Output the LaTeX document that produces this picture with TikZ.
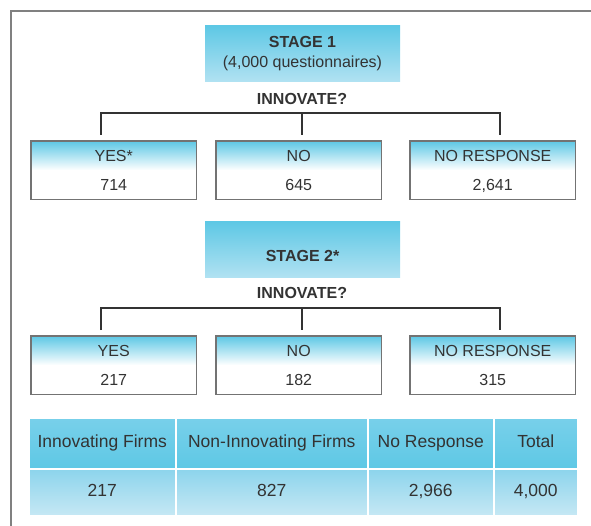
\documentclass[tikz,border=0pt]{standalone}
\usepackage{fontspec}
\setmainfont{Liberation Sans}
\begin{document}
\begin{tikzpicture}[x=1pt,y=-1pt,
  txt/.style={font=\fontsize{16}{19}\selectfont, text=black!80},
  bold/.style={txt, font=\fontsize{16}{20}\selectfont\bfseries},
  stagebox/.style={bold, inner sep=0pt, minimum width=195pt, minimum height=56pt,
    top color=cyanA, bottom color=cyanB, align=center},
  anshead/.style={txt, anchor=north west, inner sep=0pt, minimum width=165pt,
    minimum height=29pt, text height=11.5pt, text depth=0pt,
    top color=cyanA, bottom color=white},
  ansval/.style={txt, anchor=north west, inner sep=0pt, minimum width=165pt,
    minimum height=29pt, text height=11.5pt, text depth=0pt, fill=white},
  ansframe/.style={draw=black!55, line width=1.4pt},
  bracket/.style={draw=black!80, line width=1.8pt},
  tabtxt/.style={font=\fontsize{17.5}{20}\selectfont, text=black!80,
    text height=12.5pt, text depth=4pt},
  thead/.style={tabtxt, anchor=north west, inner sep=0pt, minimum height=51pt,
    top color=cyanC, bottom color=cyanA, draw=white, line width=1.5pt},
  tval/.style={tabtxt, anchor=north west, inner sep=0pt, minimum height=47pt,
    top color=cyanD, bottom color=cyanE, draw=white, line width=1.5pt}]
\definecolor{cyanA}{HTML}{5EC8E5}
\definecolor{cyanB}{HTML}{B2E2F2}
\definecolor{cyanC}{HTML}{78D0EA}
\definecolor{cyanD}{HTML}{8CD4EC}
\definecolor{cyanE}{HTML}{C6E8F4}

\useasboundingbox (0,0) rectangle (591,526);

% outer frame (left and top edges only)
\draw[draw=black!50, line width=2pt] (11,526) -- (11,11) -- (591,11);

% ---------- stage 1 ----------
\node[stagebox] (s1) at (302.5,54) {STAGE 1\\\mdseries(4,000 questionnaires)};
\node[bold] (q1) at (302,99) {INNOVATE?};

\coordinate (b1l) at (101,135);
\coordinate (b1m) at (302,135);
\coordinate (b1r) at (500,135);
\draw[bracket] (b1l) -- (101,113) -- (500,113) -- (b1r);
\draw[bracket] (302,113) -- (b1m);

\node[anshead] (y1h) at (31,141) {YES*};
\node[ansval]  (y1v) at (31,170) {714};
\node[anshead] (n1h) at (216,141) {NO};
\node[ansval]  (n1v) at (216,170) {645};
\node[anshead] (r1h) at (410,141) {NO RESPONSE};
\node[ansval]  (r1v) at (410,170) {2,641};
\foreach \h/\v in {y1h/y1v, n1h/n1v, r1h/r1v}
  \draw[ansframe] (\h.north west) rectangle (\v.south east);

% ---------- stage 2 ----------
\node[stagebox] (s2) at (302.5,250) {};
\node[bold] (s2t) at ([yshift=-6pt]s2.center) {STAGE 2*};
\node[bold] (q2) at (302,293) {INNOVATE?};

\coordinate (b2l) at (101,330);
\coordinate (b2m) at (302,330);
\coordinate (b2r) at (500,330);
\draw[bracket] (b2l) -- (101,308) -- (500,308) -- (b2r);
\draw[bracket] (302,308) -- (b2m);

\node[anshead] (y2h) at (31,336) {YES};
\node[ansval]  (y2v) at (31,365) {217};
\node[anshead] (n2h) at (216,336) {NO};
\node[ansval]  (n2v) at (216,365) {182};
\node[anshead] (r2h) at (410,336) {NO RESPONSE};
\node[ansval]  (r2v) at (410,365) {315};
\foreach \h/\v in {y2h/y2v, n2h/n2v, r2h/r2v}
  \draw[ansframe] (\h.north west) rectangle (\v.south east);

% ---------- summary table ----------
\node[thead, minimum width=147pt] (c1h) at (28,417)  {Innovating Firms};
\node[thead, minimum width=192pt] (c2h) at (175,417) {Non-Innovating Firms};
\node[thead, minimum width=126pt] (c3h) at (367,417) {No Response};
\node[thead, minimum width=84pt]  (c4h) at (493,417) {Total};
\node[tval, minimum width=147pt] (c1v) at (28,468)  {217};
\node[tval, minimum width=192pt] (c2v) at (175,468) {827};
\node[tval, minimum width=126pt] (c3v) at (367,468) {2,966};
\node[tval, minimum width=84pt]  (c4v) at (493,468) {4,000};
\end{tikzpicture}
\end{document}
